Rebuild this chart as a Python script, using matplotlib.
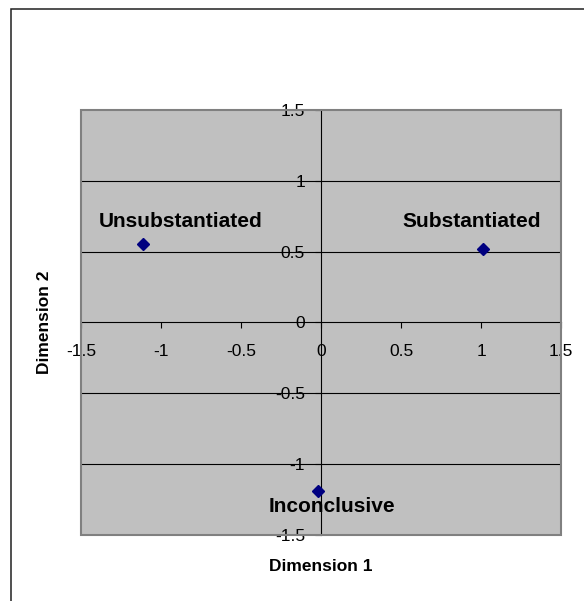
#!/usr/bin/env python3
"""Correspondence-style map of three outcome categories (Excel look)."""

import matplotlib
matplotlib.use('Agg')
import matplotlib.pyplot as plt
import matplotlib.patches as mpatches

# ── data ──────────────────────────────────────────────────────────────────
CATEGORIES = ["Unsubstantiated", "Substantiated", "Inconclusive"]
DIM1 = [-1.11, 1.015, -0.018]
DIM2 = [0.553, 0.522, -1.19]
TICKS = [-1.5, -1.0, -0.5, 0.0, 0.5, 1.0, 1.5]
TICK_LABELS = ["-1.5", "-1", "-0.5", "0", "0.5", "1", "1.5"]

# label offsets (pixels) relative to each point
LABEL_OFFSETS = [(37, 23), (-12, 27), (14, -15)]

plt.rcParams['font.family'] = ['Liberation Sans', 'DejaVu Sans']

fig = plt.figure(figsize=(5.84, 6.01), dpi=100)
W, H = 584, 601
ax = fig.add_axes([81 / W, 1 - 535 / H, 480 / W, 425 / H])

# outer chart frame (only top/left visible in the original crop)
fig.patches.append(mpatches.Rectangle((11 / W, -0.2), 1.5, 1.2 - 9 / H,
                                      transform=fig.transFigure, fill=False,
                                      edgecolor='#202020', lw=1.1))

ax.set_facecolor('#c0c0c0')
ax.set_xlim(-1.5, 1.5)
ax.set_ylim(-1.5, 1.5)

# axes cross at zero
for side in ('left', 'bottom'):
    ax.spines[side].set_position(('data', 0))
    ax.spines[side].set_color('black')
    ax.spines[side].set_linewidth(0.8)
    ax.spines[side].set_zorder(2.5)
for side in ('top', 'right'):
    ax.spines[side].set_visible(False)

# plot-area border
ax.add_patch(mpatches.Rectangle((0, 0), 1, 1, transform=ax.transAxes, fill=False,
                                edgecolor='#808080', lw=1.5, zorder=3, clip_on=False))

ax.set_xticks(TICKS)
ax.set_xticklabels(TICK_LABELS)
ax.set_yticks(TICKS)
ax.set_yticklabels(TICK_LABELS)
ax.tick_params(axis='both', direction='out', length=4.5, width=0.8, color='black',
               labelsize=12.5)
ax.tick_params(axis='x', pad=11)
ax.tick_params(axis='y', pad=7)

# horizontal gridlines only (skip the ones on the border)
ax.yaxis.grid(True, color='black', lw=0.8)
ax.set_axisbelow(True)
for gl, t in zip(ax.get_ygridlines(), TICKS):
    if abs(t) == 1.5 or t == 0:
        gl.set_visible(False)

ax.plot(DIM1, DIM2, linestyle='none', marker='D', markersize=6.5,
        color='#000080', zorder=4, clip_on=False)

for name, x, y, (dx, dy) in zip(CATEGORIES, DIM1, DIM2, LABEL_OFFSETS):
    ax.annotate(name, xy=(x, y), xytext=(dx, dy), textcoords='offset pixels',
                ha='center', va='center', fontsize=15, fontweight='bold', zorder=5)

ax.set_xlabel('Dimension 1', fontsize=12.5, fontweight='bold', va='center')
ax.xaxis.set_label_coords(0.5, -0.073)
ax.set_ylabel('Dimension 2', fontsize=12.5, fontweight='bold', va='center')
ax.yaxis.set_label_coords(-0.077, 0.5)

fig.savefig('out.png', dpi=100)
plt.close(fig)
